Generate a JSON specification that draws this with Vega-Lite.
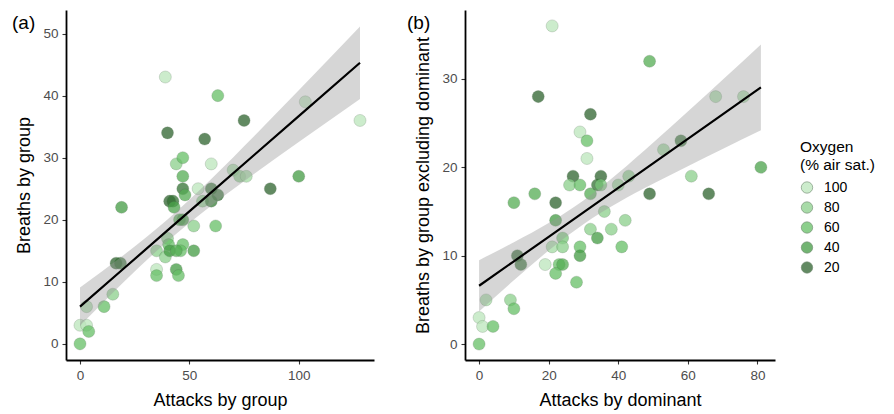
{
  "$schema": "https://vega.github.io/schema/vega-lite/v6.json",
  "padding": {"left": 11, "top": 10, "right": 5, "bottom": 0},
  "config": {
    "font": "Liberation Sans",
    "view": {"stroke": null},
    "axis": {
      "grid": false,
      "domainColor": "#000000",
      "domainWidth": 1.8,
      "tickColor": "#333333",
      "tickWidth": 1.1,
      "tickSize": 4,
      "labelFont": "Liberation Sans",
      "labelFontSize": 13.5,
      "labelColor": "#4d4d4d",
      "labelPadding": 4,
      "titleFont": "Liberation Sans",
      "titleFontSize": 18,
      "titleFontWeight": "normal",
      "titleColor": "#000000"
    },
    "concat": {"spacing": 32}
  },
  "datasets": {
    "apts": [
      {"x": 39, "y": 43, "oxygen": 100}, {"x": 63, "y": 40, "oxygen": 60}, {"x": 75, "y": 36, "oxygen": 20},
      {"x": 128, "y": 36, "oxygen": 100}, {"x": 103, "y": 39, "oxygen": 100}, {"x": 40, "y": 34, "oxygen": 20},
      {"x": 57, "y": 33, "oxygen": 20}, {"x": 44, "y": 29, "oxygen": 80}, {"x": 47, "y": 30, "oxygen": 60},
      {"x": 60, "y": 29, "oxygen": 100}, {"x": 47, "y": 27, "oxygen": 50}, {"x": 100, "y": 27, "oxygen": 40},
      {"x": 70, "y": 28, "oxygen": 90}, {"x": 73, "y": 27, "oxygen": 80}, {"x": 76, "y": 27, "oxygen": 90},
      {"x": 87, "y": 25, "oxygen": 20}, {"x": 54, "y": 25, "oxygen": 100}, {"x": 60, "y": 25, "oxygen": 25},
      {"x": 47, "y": 25, "oxygen": 25}, {"x": 48, "y": 24, "oxygen": 50}, {"x": 63, "y": 24, "oxygen": 25},
      {"x": 56, "y": 23, "oxygen": 80}, {"x": 60, "y": 23, "oxygen": 30}, {"x": 41, "y": 23, "oxygen": 20},
      {"x": 42.5, "y": 23, "oxygen": 25}, {"x": 43, "y": 22, "oxygen": 45}, {"x": 45.5, "y": 20, "oxygen": 50},
      {"x": 47, "y": 20, "oxygen": 40}, {"x": 52, "y": 19, "oxygen": 80}, {"x": 62, "y": 19, "oxygen": 60},
      {"x": 40, "y": 17, "oxygen": 80}, {"x": 40.5, "y": 16, "oxygen": 60}, {"x": 35, "y": 15, "oxygen": 80},
      {"x": 39, "y": 14, "oxygen": 80}, {"x": 41, "y": 15, "oxygen": 40}, {"x": 47, "y": 16, "oxygen": 60},
      {"x": 46, "y": 15, "oxygen": 60}, {"x": 44, "y": 15, "oxygen": 50}, {"x": 52, "y": 15, "oxygen": 40},
      {"x": 35, "y": 12, "oxygen": 100}, {"x": 35, "y": 11, "oxygen": 60}, {"x": 44, "y": 12, "oxygen": 40},
      {"x": 45, "y": 11, "oxygen": 60}, {"x": 19, "y": 22, "oxygen": 40}, {"x": 16.5, "y": 13, "oxygen": 20},
      {"x": 18.5, "y": 13, "oxygen": 25}, {"x": 15, "y": 8, "oxygen": 80}, {"x": 11, "y": 6, "oxygen": 60},
      {"x": 3, "y": 6, "oxygen": 90}, {"x": 0, "y": 3, "oxygen": 100}, {"x": 3, "y": 3, "oxygen": 100},
      {"x": 4, "y": 2, "oxygen": 60}, {"x": 0, "y": 0, "oxygen": 60}
    ],
    "bpts": [
      {"x": 21, "y": 36, "oxygen": 100}, {"x": 49, "y": 32, "oxygen": 50}, {"x": 17, "y": 28, "oxygen": 20},
      {"x": 68, "y": 28, "oxygen": 90}, {"x": 76, "y": 28, "oxygen": 90}, {"x": 32, "y": 26, "oxygen": 20},
      {"x": 29, "y": 24, "oxygen": 100}, {"x": 31, "y": 23, "oxygen": 60}, {"x": 31, "y": 21, "oxygen": 100},
      {"x": 53, "y": 22, "oxygen": 85}, {"x": 58, "y": 23, "oxygen": 25}, {"x": 61, "y": 19, "oxygen": 80},
      {"x": 81, "y": 20, "oxygen": 45}, {"x": 27, "y": 19, "oxygen": 20}, {"x": 35, "y": 19, "oxygen": 20},
      {"x": 26, "y": 18, "oxygen": 80}, {"x": 29, "y": 18, "oxygen": 60}, {"x": 34, "y": 18, "oxygen": 25},
      {"x": 35, "y": 18, "oxygen": 70}, {"x": 40, "y": 18, "oxygen": 85}, {"x": 43, "y": 19, "oxygen": 80},
      {"x": 16, "y": 17, "oxygen": 50}, {"x": 32, "y": 17, "oxygen": 50}, {"x": 49, "y": 17, "oxygen": 20},
      {"x": 66, "y": 17, "oxygen": 20}, {"x": 10, "y": 16, "oxygen": 50}, {"x": 22, "y": 16, "oxygen": 20},
      {"x": 36, "y": 15, "oxygen": 80}, {"x": 22, "y": 14, "oxygen": 40}, {"x": 42, "y": 14, "oxygen": 80},
      {"x": 32, "y": 13, "oxygen": 80}, {"x": 38, "y": 13, "oxygen": 80}, {"x": 24, "y": 12, "oxygen": 70},
      {"x": 34, "y": 12, "oxygen": 40}, {"x": 21, "y": 11, "oxygen": 90}, {"x": 24, "y": 11, "oxygen": 80},
      {"x": 29, "y": 11, "oxygen": 60}, {"x": 41, "y": 11, "oxygen": 60}, {"x": 11, "y": 10, "oxygen": 20},
      {"x": 29, "y": 10, "oxygen": 40}, {"x": 12, "y": 9, "oxygen": 25}, {"x": 19, "y": 9, "oxygen": 100},
      {"x": 23, "y": 9, "oxygen": 60}, {"x": 24, "y": 9, "oxygen": 50}, {"x": 22, "y": 8, "oxygen": 60},
      {"x": 28, "y": 7, "oxygen": 60}, {"x": 2, "y": 5, "oxygen": 90}, {"x": 9, "y": 5, "oxygen": 80},
      {"x": 10, "y": 4, "oxygen": 60}, {"x": 0, "y": 3, "oxygen": 100}, {"x": 1, "y": 2, "oxygen": 100},
      {"x": 4, "y": 2, "oxygen": 60}, {"x": 0, "y": 0, "oxygen": 60}
    ],
    "afit": [
      {"x": 0, "fit": 6.0, "lo": 2.9, "hi": 9.1},
      {"x": 20, "fit": 12.14, "lo": 9.97, "hi": 14.31},
      {"x": 40, "fit": 18.28, "lo": 16.53, "hi": 20.03},
      {"x": 60, "fit": 24.42, "lo": 22.27, "hi": 26.57},
      {"x": 80, "fit": 30.56, "lo": 27.49, "hi": 33.63},
      {"x": 100, "fit": 36.7, "lo": 32.53, "hi": 40.87},
      {"x": 128, "fit": 45.3, "lo": 39.46, "hi": 51.14}
    ],
    "bfit": [
      {"x": 0, "fit": 6.6, "lo": 3.7, "hi": 9.5},
      {"x": 10, "fit": 9.37, "lo": 7.22, "hi": 11.52},
      {"x": 20, "fit": 12.14, "lo": 10.59, "hi": 13.69},
      {"x": 30, "fit": 14.91, "lo": 13.56, "hi": 16.26},
      {"x": 40, "fit": 17.68, "lo": 16.01, "hi": 19.35},
      {"x": 50, "fit": 20.45, "lo": 18.13, "hi": 22.77},
      {"x": 60, "fit": 23.22, "lo": 20.13, "hi": 26.31},
      {"x": 70, "fit": 25.99, "lo": 22.08, "hi": 29.9},
      {"x": 81, "fit": 29.04, "lo": 24.19, "hi": 33.89}
    ]
  },
  "hconcat": [
    {
      "width": 308,
      "height": 350,
      "title": {"text": "(a)", "anchor": "start", "frame": "bounds", "fontSize": 19, "fontWeight": "normal", "font": "Liberation Sans", "offset": 0, "dy": 23, "dx": -4},
      "layer": [
        {
          "data": {"name": "apts"},
          "mark": {"type": "point", "filled": true, "size": 145, "opacity": 0.75, "stroke": "#3f5f3f", "strokeWidth": 0.6, "strokeOpacity": 0.45},
          "encoding": {
            "x": {"field": "x", "type": "quantitative", "title": "Attacks by group",
                  "scale": {"domain": [-6.4, 134.4], "nice": false, "zero": false},
                  "axis": {"values": [0, 50, 100], "titlePadding": 10}},
            "y": {"field": "y", "type": "quantitative", "title": "Breaths by group",
                  "scale": {"domain": [-2.6, 53.8], "nice": false, "zero": false},
                  "axis": {"values": [0, 10, 20, 30, 40, 50], "titlePadding": 9}},
            "color": {"field": "oxygen", "type": "quantitative",
                      "scale": {"domain": [20, 40, 60, 80, 100], "range": ["#2e632e", "#439b43", "#66bf66", "#8bcf8b", "#bce6bc"]},
                      "legend": {"title": ["Oxygen", "(% air sat.)"], "type": "symbol", "values": [100, 80, 60, 40, 20],
                                 "orient": "none", "legendX": 734, "legendY": 130,
                                 "symbolType": "circle", "symbolSize": 130, "symbolStrokeWidth": 0.6,
                                 "titleFontSize": 15.5, "titleFontWeight": "normal", "titleColor": "#000000", "titleLineHeight": 18,
                                 "labelFontSize": 14, "labelColor": "#000000", "labelOffset": 10, "rowPadding": 6, "titlePadding": 7}}
          }
        },
        {
          "data": {"name": "afit"},
          "mark": {"type": "area", "color": "#999999", "opacity": 0.4, "interpolate": "monotone"},
          "encoding": {
            "x": {"field": "x", "type": "quantitative"},
            "y": {"field": "lo", "type": "quantitative"},
            "y2": {"field": "hi"}
          }
        },
        {
          "data": {"name": "afit"},
          "mark": {"type": "line", "color": "#000000", "strokeWidth": 2.2},
          "encoding": {
            "x": {"field": "x", "type": "quantitative"},
            "y": {"field": "fit", "type": "quantitative"}
          }
        }
      ]
    },
    {
      "width": 310,
      "height": 350,
      "title": {"text": "(b)", "anchor": "start", "frame": "bounds", "fontSize": 19, "fontWeight": "normal", "font": "Liberation Sans", "offset": 0, "dy": 23, "dx": -8},
      "layer": [
        {
          "data": {"name": "bpts"},
          "mark": {"type": "point", "filled": true, "size": 145, "opacity": 0.75, "stroke": "#3f5f3f", "strokeWidth": 0.6, "strokeOpacity": 0.45},
          "encoding": {
            "x": {"field": "x", "type": "quantitative", "title": "Attacks by dominant",
                  "scale": {"domain": [-4.05, 85.05], "nice": false, "zero": false},
                  "axis": {"values": [0, 20, 40, 60, 80], "titlePadding": 10}},
            "y": {"field": "y", "type": "quantitative", "title": "Breaths by group excluding dominant",
                  "scale": {"domain": [-1.8, 37.8], "nice": false, "zero": false},
                  "axis": {"values": [0, 10, 20, 30], "titlePadding": 9}},
            "color": {"field": "oxygen", "type": "quantitative"}
          }
        },
        {
          "data": {"name": "bfit"},
          "mark": {"type": "area", "color": "#999999", "opacity": 0.4, "interpolate": "monotone"},
          "encoding": {
            "x": {"field": "x", "type": "quantitative"},
            "y": {"field": "lo", "type": "quantitative"},
            "y2": {"field": "hi"}
          }
        },
        {
          "data": {"name": "bfit"},
          "mark": {"type": "line", "color": "#000000", "strokeWidth": 2.2},
          "encoding": {
            "x": {"field": "x", "type": "quantitative"},
            "y": {"field": "fit", "type": "quantitative"}
          }
        }
      ]
    }
  ]
}
